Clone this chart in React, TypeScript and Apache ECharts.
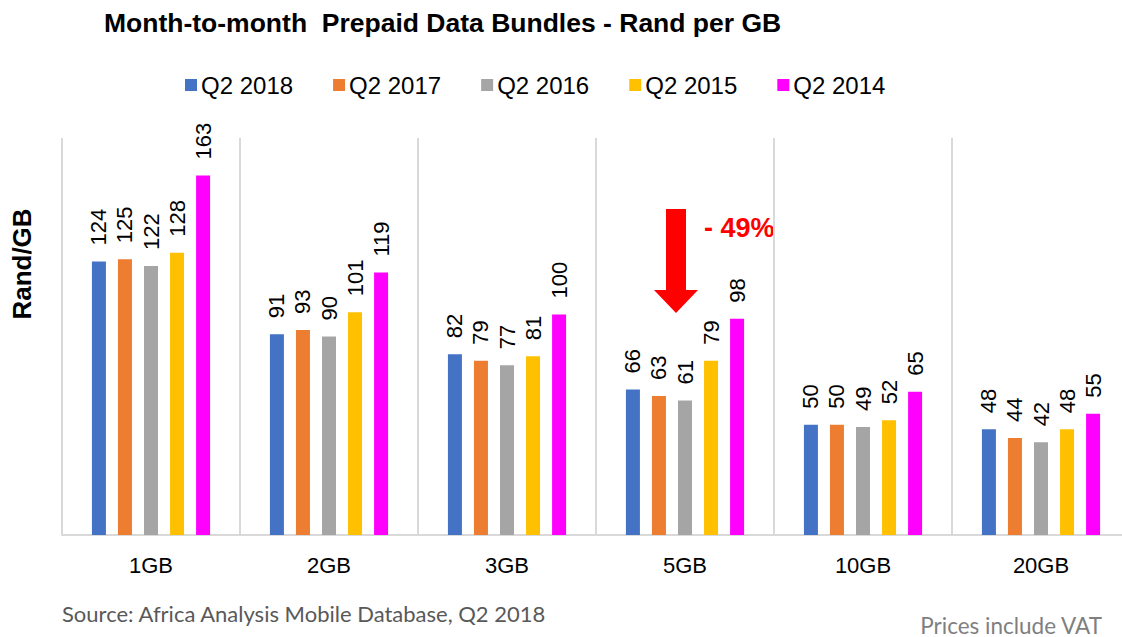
import React, { useEffect, useRef } from "react";
import * as echarts from "echarts";

const categories = ["1GB", "2GB", "3GB", "5GB", "10GB", "20GB"];
const seriesNames = ["Q2 2018", "Q2 2017", "Q2 2016", "Q2 2015", "Q2 2014"];
const q2018 = [124, 91, 82, 66, 50, 48];
const q2017 = [125, 93, 79, 63, 50, 44];
const q2016 = [122, 90, 77, 61, 49, 42];
const q2015 = [128, 101, 81, 79, 52, 48];
const q2014 = [163, 119, 100, 98, 65, 55];
const colors = ["#4472c4", "#ed7d31", "#a5a5a5", "#ffc000", "#ff00ff"];

export default function App() {
  const ref = useRef<HTMLDivElement>(null);
  useEffect(() => {
    if (!ref.current) return;
    const chart = echarts.init(ref.current, null, { renderer: "svg" });
    const values = [q2018, q2017, q2016, q2015, q2014];
    const font = "'Liberation Sans', Arial, sans-serif";
    chart.setOption({
      animation: false,
      textStyle: { fontFamily: font },
      title: {
        text: "Month-to-month  Prepaid Data Bundles - Rand per GB",
        left: 104,
        top: 9,
        padding: 0,
        textStyle: { fontSize: 26.5, fontWeight: "bold", color: "#000", fontFamily: font },
      },
      legend: {
        data: seriesNames,
        left: 185,
        top: 73,
        padding: 0,
        itemWidth: 12,
        itemHeight: 12,
        itemGap: 40,
        icon: "rect",
        textStyle: { fontSize: 24, color: "#000", padding: [0, 0, 0, -1], fontFamily: font },
      },
      grid: {
        left: 62,
        top: 138,
        width: 1068,
        height: 397,
        containLabel: false,
        outerBoundsMode: "none",
      },
      xAxis: {
        type: "category",
        data: categories,
        axisLine: { lineStyle: { color: "#d9d9d9", width: 2 } },
        axisTick: { show: false },
        splitLine: { show: true, lineStyle: { color: "#d9d9d9", width: 2 } },
        axisLabel: { fontSize: 22, color: "#000", margin: 19, fontFamily: font },
      },
      yAxis: {
        type: "value",
        min: 0,
        max: 180,
        axisLabel: { show: false },
        axisLine: { show: false },
        axisTick: { show: false },
        splitLine: { show: false },
      },
      series: seriesNames.map((name, i) => ({
        name,
        type: "bar",
        data: values[i],
        barWidth: 14,
        barGap: "86%",
        itemStyle: { color: colors[i] },
        label: {
          show: true,
          position: "top",
          rotate: 90,
          align: "left",
          verticalAlign: "middle",
          distance: 16,
          fontSize: 22,
          color: "#000",
          fontFamily: font,
        },
      })),
      graphic: [
        {
          type: "text",
          x: 22,
          y: 264,
          rotation: Math.PI / 2,
          style: {
            text: "Rand/GB",
            fontSize: 26,
            fontWeight: "bold",
            fill: "#000",
            align: "center",
            verticalAlign: "middle",
            fontFamily: font,
          },
        },
        {
          type: "polygon",
          shape: {
            points: [
              [666, 209],
              [686, 209],
              [686, 290],
              [698, 290],
              [676, 313],
              [654, 290],
              [666, 290],
            ],
          },
          style: { fill: "#ff0000" },
        },
        {
          type: "text",
          x: 704,
          y: 228,
          style: {
            text: "- 49%",
            fontSize: 27,
            fontWeight: "bold",
            fill: "#ff0000",
            align: "left",
            verticalAlign: "middle",
            fontFamily: font,
          },
        },
        {
          type: "text",
          x: 62,
          y: 613,
          style: {
            text: "Source: Africa Analysis Mobile Database, Q2 2018",
            fontSize: 22,
            fill: "#595959",
            align: "left",
            verticalAlign: "middle",
            fontFamily: "Lato, sans-serif",
          },
        },
        {
          type: "text",
          x: 1102,
          y: 625,
          style: {
            text: "Prices include VAT",
            fontSize: 22.5,
            fill: "#7f7f7f",
            align: "right",
            verticalAlign: "middle",
            fontFamily: "Lato, sans-serif",
          },
        },
      ],
    });
    return () => chart.dispose();
  }, []);
  return (
    <div
      ref={ref}
      style={{ position: "absolute", left: 0, top: 0, width: 1122, height: 637 }}
    />
  );
}
